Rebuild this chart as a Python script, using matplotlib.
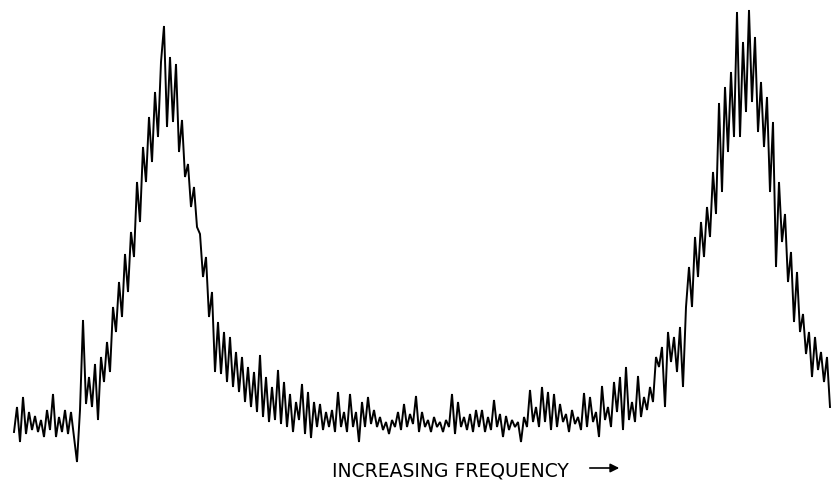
import numpy as np
import matplotlib
matplotlib.use("Agg")
import matplotlib.pyplot as plt

# Sampling positions along the frequency sweep (chart units = pixels)
freq = np.arange(14, 831, 3)

# Detector signal (chart units, 0 = bottom of chart)
signal = [
    50, 75, 40, 85, 48, 70, 52, 66, 50, 62,
    45, 72, 52, 88, 45, 65, 50, 72, 48, 70,
    45, 20, 72, 162, 78, 105, 75, 118, 62, 125,
    100, 140, 110, 175, 150, 200, 165, 228, 190, 250,
    225, 300, 260, 335, 300, 365, 320, 390, 345, 420,
    456, 355, 425, 360, 418, 330, 362, 305, 318, 275,
    295, 255, 248, 205, 225, 165, 190, 110, 160, 108,
    150, 100, 145, 95, 130, 90, 125, 80, 115, 75,
    110, 70, 127, 65, 105, 60, 95, 62, 112, 58,
    100, 55, 88, 50, 80, 62, 98, 48, 90, 44,
    80, 55, 78, 52, 70, 55, 72, 50, 90, 55,
    70, 50, 88, 55, 70, 40, 80, 55, 85, 58,
    72, 55, 65, 52, 60, 48, 62, 55, 70, 52,
    78, 55, 68, 58, 86, 50, 70, 55, 62, 50,
    65, 55, 60, 50, 62, 55, 88, 48, 80, 55,
    65, 52, 68, 50, 72, 55, 72, 50, 65, 52,
    82, 55, 68, 45, 66, 52, 62, 55, 60, 40,
    65, 55, 92, 60, 75, 55, 95, 60, 90, 52,
    88, 55, 78, 60, 68, 50, 72, 58, 65, 52,
    89, 55, 85, 60, 70, 45, 96, 62, 75, 55,
    100, 70, 105, 52, 115, 62, 80, 60, 106, 65,
    85, 72, 95, 80, 125, 115, 135, 75, 150, 120,
    145, 110, 155, 95, 175, 215, 175, 245, 205, 260,
    225, 275, 245, 310, 268, 379, 290, 395, 330, 410,
    345, 470, 345, 440, 370, 472, 380, 445, 350, 400,
    335, 385, 290, 360, 215, 300, 240, 268, 200, 230,
    160, 210, 150, 168, 128, 150, 105, 145, 112, 130,
    100, 125, 75,
]

caption = "INCREASING FREQUENCY"

fig = plt.figure(figsize=(8.32, 4.82), dpi=100)
ax = fig.add_axes([0, 0, 1, 1])
ax.plot(freq, signal, color="black", linewidth=1.4, solid_joinstyle="miter")
ax.set_xlim(0, 832)
ax.set_ylim(0, 482)
ax.axis("off")

ax.text(450, 11, caption, ha="center", va="center", fontsize=13.5,
        family="DejaVu Sans", fontweight="normal", color="black")
ax.annotate("", xy=(622, 14), xytext=(587, 14),
            arrowprops=dict(arrowstyle="-|>", color="black", lw=1.2,
                            mutation_scale=13))

fig.savefig("out.png", dpi=100, facecolor="white")
